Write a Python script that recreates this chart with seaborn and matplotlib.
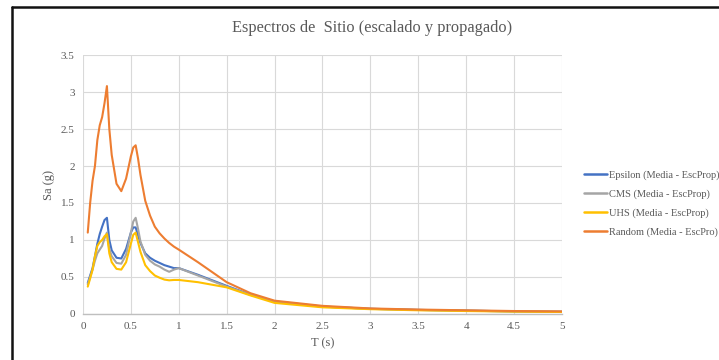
"""Espectros de sitio escalados y propagados (Epsilon, CMS, UHS, Random)."""

import matplotlib

matplotlib.use("Agg")

import matplotlib.pyplot as plt
import pandas as pd
import seaborn as sns
from matplotlib.lines import Line2D

# periodos (s)
periods = [0.05, 0.075, 0.1, 0.125, 0.15, 0.175, 0.2, 0.225, 0.25, 0.275,
           0.3, 0.35, 0.4, 0.45, 0.5, 0.525, 0.55, 0.575, 0.6, 0.65,
           0.7, 0.75, 0.8, 0.85, 0.9, 0.95, 1.0, 1.2, 1.5, 1.75,
           2.0, 2.5, 3.0, 3.5, 4.0, 4.5, 5.0]

sa_epsilon = [0.42, 0.52, 0.62, 0.78, 0.95, 1.08, 1.18, 1.27, 1.30, 1.00,
              0.86, 0.76, 0.75, 0.88, 1.10, 1.17, 1.17, 1.06, 0.96, 0.82,
              0.76, 0.72, 0.69, 0.66, 0.64, 0.62, 0.62, 0.53, 0.38, 0.26,
              0.17, 0.10, 0.07, 0.055, 0.045, 0.035, 0.03]
sa_cms = [0.40, 0.50, 0.60, 0.72, 0.82, 0.87, 0.92, 1.02, 1.10, 0.88,
          0.78, 0.69, 0.68, 0.80, 1.10, 1.25, 1.30, 1.15, 0.98, 0.80,
          0.72, 0.67, 0.64, 0.60, 0.57, 0.60, 0.62, 0.52, 0.37, 0.26,
          0.17, 0.10, 0.07, 0.055, 0.045, 0.035, 0.03]
sa_uhs = [0.37, 0.48, 0.60, 0.78, 0.92, 0.97, 1.00, 1.05, 1.08, 0.82,
          0.70, 0.61, 0.60, 0.70, 0.95, 1.07, 1.10, 0.97, 0.84, 0.66,
          0.58, 0.52, 0.49, 0.465, 0.455, 0.46, 0.46, 0.43, 0.36, 0.25,
          0.15, 0.09, 0.065, 0.05, 0.04, 0.032, 0.027]
sa_random = [1.10, 1.50, 1.80, 2.00, 2.35, 2.55, 2.66, 2.85, 3.08, 2.50,
             2.15, 1.76, 1.66, 1.83, 2.13, 2.25, 2.28, 2.10, 1.88, 1.53,
             1.33, 1.18, 1.09, 1.02, 0.96, 0.91, 0.87, 0.70, 0.43, 0.28,
             0.18, 0.11, 0.075, 0.06, 0.05, 0.04, 0.035]

series_names = [
    "Epsilon (Media - EscProp)",
    "CMS (Media - EscProp)",
    "UHS (Media - EscProp)",
    "Random (Media - EscPro)",
]
series_colors = ["#4472C4", "#A5A5A5", "#FFC000", "#ED7D31"]

df = pd.concat(
    [
        pd.DataFrame({"T": periods, "Sa": vals, "serie": name})
        for name, vals in zip(series_names, [sa_epsilon, sa_cms, sa_uhs, sa_random])
    ],
    ignore_index=True,
)

sns.set_style("whitegrid", {"grid.color": "#D9D9D9", "axes.edgecolor": "#D9D9D9"})
plt.rcParams["font.family"] = ["Liberation Serif", "DejaVu Serif"]

fig = plt.figure(figsize=(7.19, 3.6), dpi=100)
ax = fig.add_axes([0.1154, 0.1278, 0.6662, 0.7194])

sns.lineplot(
    data=df, x="T", y="Sa", hue="serie", hue_order=series_names,
    palette=series_colors, linewidth=1.5, sort=False, legend=False, ax=ax,
)
for line in ax.get_lines():
    line.set_solid_joinstyle("round")

ax.set_xlim(0, 5)
ax.set_ylim(0, 3.5)
ax.set_xticks([0, 0.5, 1, 1.5, 2, 2.5, 3, 3.5, 4, 4.5, 5])
ax.set_xticklabels(["0", "0.5", "1", "1.5", "2", "2.5", "3", "3.5", "4", "4.5", "5"])
ax.set_yticks([0, 0.5, 1, 1.5, 2, 2.5, 3, 3.5])
ax.set_yticklabels(["0", "0.5", "1", "1.5", "2", "2.5", "3", "3.5"])
ax.tick_params(labelsize=8, labelcolor="#595959", length=0, pad=6)
for side in ["top", "right", "left"]:
    ax.spines[side].set_visible(False)
ax.spines["bottom"].set_color("#BFBFBF")
ax.spines["bottom"].set_linewidth(1.0)

ax.set_xlabel("T (s)", fontsize=9, color="#595959")
ax.set_ylabel("Sa (g)", fontsize=9, color="#595959", labelpad=4)

fig.text(0.517, 0.922, "Espectros de  Sitio (escalado y propagado)",
         ha="center", va="center", fontsize=11.8, color="#595959")

handles = [Line2D([0], [0], color=c, lw=1.8) for c in series_colors]
fig.legend(
    handles, series_names, loc="upper left", bbox_to_anchor=(0.806, 0.538),
    frameon=False, fontsize=7.5, handlelength=2.2, handletextpad=0.2,
    labelspacing=0.9, labelcolor="#595959", borderaxespad=0,
)

# marco del gráfico
fig.add_artist(Line2D([12 / 719, 1.0], [1 - 7 / 360, 1 - 7 / 360],
                      transform=fig.transFigure, color="#111111", lw=1.8))
fig.add_artist(Line2D([12 / 719, 12 / 719], [0.0, 1 - 7 / 360],
                      transform=fig.transFigure, color="#111111", lw=1.8))

fig.savefig("out.png", dpi=100)
